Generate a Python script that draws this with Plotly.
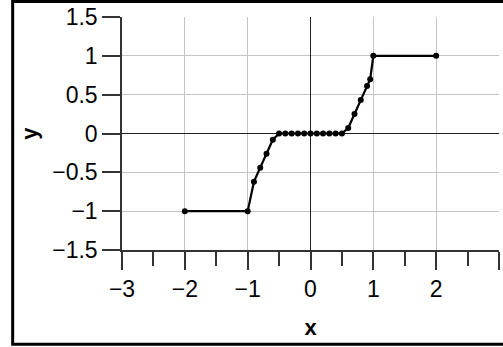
import plotly.graph_objects as go

x_vals = [-2, -1, -0.9, -0.8, -0.7, -0.6, -0.5, -0.4, -0.3, -0.2, -0.1, 0,
          0.1, 0.2, 0.3, 0.4, 0.5, 0.6, 0.7, 0.8, 0.9, 0.95, 1, 2]
y_vals = [-1, -1, -0.62, -0.44, -0.26, -0.08, 0, 0, 0, 0, 0, 0,
          0, 0, 0, 0, 0, 0.07, 0.25, 0.43, 0.61, 0.70, 1, 1]
x_ticks = [-3, -2, -1, 0, 1, 2, 3]
y_ticks = [-1.5, -1, -0.5, 0, 0.5, 1, 1.5]

fig = go.Figure()
fig.add_trace(go.Scatter(
    x=x_vals, y=y_vals, mode="lines+markers",
    line=dict(color="black", width=2.2),
    marker=dict(color="black", size=6),
    showlegend=False, cliponaxis=False,
))

font = "Liberation Sans, Arial, sans-serif"
fig.update_layout(
    width=503, height=347,
    margin=dict(l=122, r=4, t=17, b=97),
    paper_bgcolor="white", plot_bgcolor="white",
    font=dict(family=font, size=23, color="black"),
    xaxis=dict(
        range=[-3, 3], tickvals=x_ticks, ticktext=[str(v).replace("-", "\u2212") for v in x_ticks],
        showgrid=True, gridcolor="#c4c4c4", gridwidth=1.2,
        zeroline=True, zerolinecolor="#222222", zerolinewidth=1.4,
        showline=True, linecolor="#333333", linewidth=1.5,
        ticks="outside", ticklen=18, tickwidth=1.5, tickcolor="#333333",
        minor=dict(dtick=0.5, tick0=0, ticks="outside", ticklen=14, tickwidth=1.5,
                   tickcolor="#333333", showgrid=False),
        title=dict(text="<b>x</b>", font=dict(size=22), standoff=18),
        fixedrange=True,
    ),
    yaxis=dict(
        range=[-1.5, 1.5], tickvals=y_ticks,
        ticktext=[("%g" % v).replace("-", "\u2212") for v in y_ticks],
        showgrid=True, gridcolor="#c4c4c4", gridwidth=1.2,
        zeroline=True, zerolinecolor="#222222", zerolinewidth=1.4,
        showline=True, linecolor="#333333", linewidth=1.5,
        ticks="outside", ticklen=18, tickwidth=1.5, tickcolor="#333333",
        title=dict(text="<b>y</b>", font=dict(size=22), standoff=9),
        fixedrange=True,
    ),
    shapes=[dict(type="rect", xref="paper", yref="paper",
                 x0=-0.29, x1=1.05, y0=-0.405, y1=1.066,
                 line=dict(color="black", width=3), layer="above")],
)

fig.write_html("out.html", config={"displayModeBar": False})
with open("out.html", encoding="utf-8") as f:
    html = f.read()
html = html.replace("<head>", "<head><style>html,body{margin:0;padding:0;overflow:hidden;}</style>", 1)
with open("out.html", "w", encoding="utf-8") as f:
    f.write(html)
